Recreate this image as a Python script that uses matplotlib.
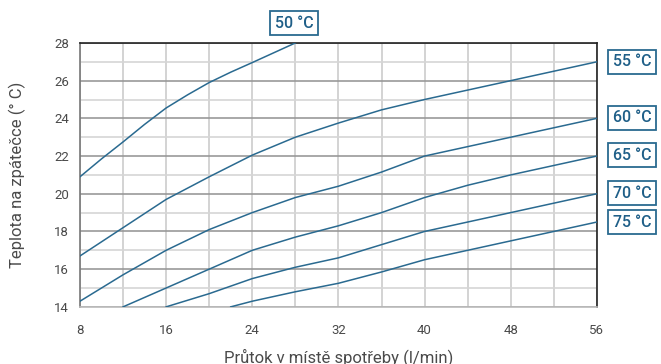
import matplotlib.pyplot as plt
import numpy as np

plt.rcParams['font.family'] = ['Roboto', 'DejaVu Sans']

# Supply temperature curves: flow (l/min) vs return temperature (deg C)
x_50 = [8, 10, 12, 14, 16, 18, 20, 22, 24, 28]
y_50 = [20.9, 21.85, 22.75, 23.68, 24.55, 25.25, 25.9, 26.45, 26.96, 28.0]

x_55 = [8, 12, 16, 20, 24, 28, 32, 36, 40, 44, 48, 52, 56]
y_55 = [16.7, 18.2, 19.7, 20.9, 22.05, 23.0, 23.75, 24.45, 25.0, 25.5, 26.0, 26.5, 27.0]

x_60 = [8, 12, 16, 20, 24, 28, 32, 36, 40, 44, 48, 52, 56]
y_60 = [14.3, 15.7, 17.0, 18.1, 19.0, 19.8, 20.4, 21.15, 22.0, 22.5, 23.0, 23.5, 24.0]

x_65 = [12, 16, 20, 24, 28, 32, 36, 40, 44, 48, 52, 56]
y_65 = [14.0, 15.0, 16.0, 17.0, 17.7, 18.3, 19.0, 19.8, 20.45, 21.0, 21.5, 22.0]

x_70 = [16, 20, 24, 28, 32, 36, 40, 44, 48, 52, 56]
y_70 = [14.0, 14.7, 15.5, 16.1, 16.6, 17.3, 18.0, 18.5, 19.0, 19.5, 20.0]

x_75 = [22, 24, 28, 32, 36, 40, 44, 48, 52, 56]
y_75 = [14.0, 14.3, 14.8, 15.25, 15.85, 16.5, 17.0, 17.5, 18.0, 18.5]

curves = [(x_50, y_50), (x_55, y_55), (x_60, y_60),
          (x_65, y_65), (x_70, y_70), (x_75, y_75)]
labels = ["50 °C", "55 °C", "60 °C", "65 °C", "70 °C", "75 °C"]

line_col = "#2a6a90"
txt_col = "#4a4a4a"

fig = plt.figure(figsize=(6.61, 3.64), dpi=100)
ax = fig.add_axes([0.121, 0.157, 0.782, 0.725])

# grid: minor every 4 l/min and 1 deg, major at the labelled ticks
for xv in np.arange(8, 57, 4):
    ax.axvline(xv, color="#cccccc", lw=1.2, zorder=0)
for yv in np.arange(14, 29, 1):
    c = "#999999" if yv % 2 == 0 else "#d6d6d6"
    ax.axhline(yv, color=c, lw=1.2, zorder=0)

for xs, ys in curves:
    ax.plot(xs, ys, color=line_col, lw=1.1, zorder=3)

ax.set_xlim(8, 56)
ax.set_ylim(14, 28)
ax.set_xticks(np.arange(8, 57, 8))
ax.set_yticks(np.arange(14, 29, 2))
ax.tick_params(length=0, colors=txt_col, labelsize=9.5, pad=12)
ax.tick_params(axis="y", pad=8)

ax.spines["top"].set_color("#222222")
ax.spines["right"].set_color("#222222")
ax.spines["left"].set_color("#777777")
ax.spines["bottom"].set_color("#bbbbbb")
for s in ax.spines.values():
    s.set_linewidth(1.2)

ax.set_xlabel("Průtok v místě spotřeby (l/min)", color=txt_col, fontsize=12,
              labelpad=8)
ax.set_ylabel("Teplota na zpátečce (° C)", color=txt_col, fontsize=12,
              labelpad=20)

box = dict(boxstyle="square,pad=0.3", fc="white", ec="#2a6a90", lw=1.3)
label_pos = [(294, 23), (632, 62), (632, 118), (632, 155), (632, 193), (632, 222)]
for lab, (px, py) in zip(labels, label_pos):
    fig.text(px / 661, 1 - py / 364, lab, ha="center", va="center",
             fontsize=11.5, fontweight="medium", color="#1f5f88", bbox=box)

fig.savefig("out.png", dpi=100)
